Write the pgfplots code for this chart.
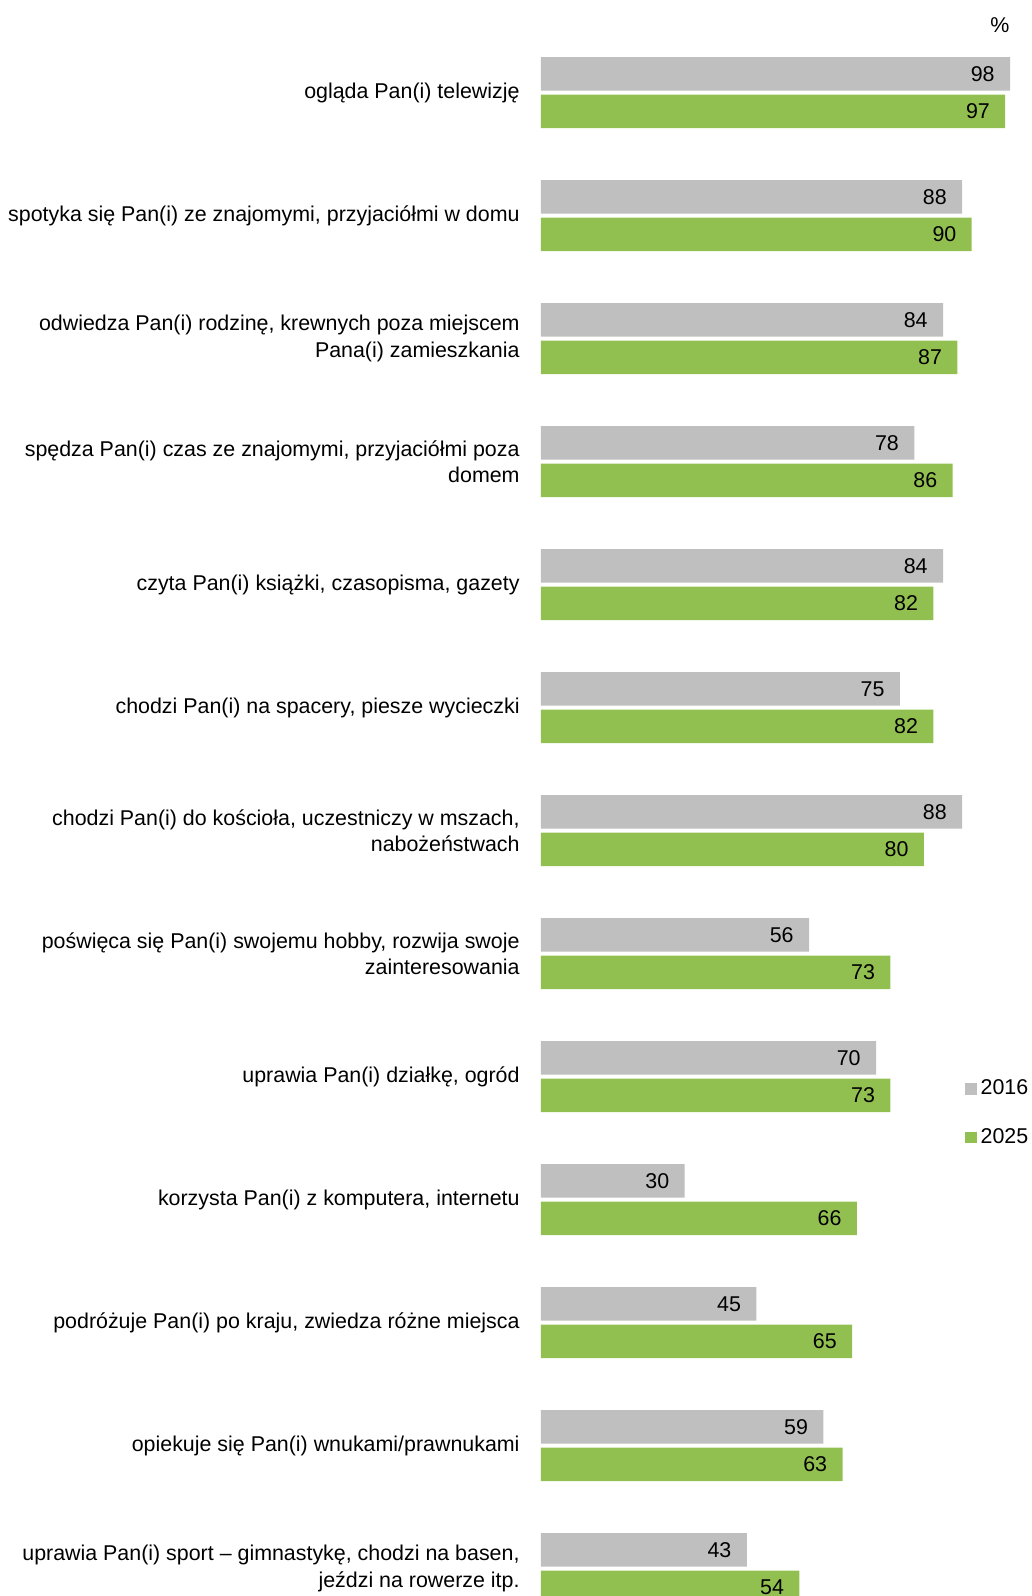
\documentclass[border=0pt]{standalone}
\usepackage{fontspec}
\setmainfont{Liberation Sans}
\usepackage{pgfplots}
\pgfplotsset{compat=1.18}
\definecolor{bargray}{RGB}{191,191,191}
\definecolor{bargreen}{RGB}{146,192,80}
\newcommand{\lbl}{\fontsize{10.7}{13.25}\selectfont}
\begin{document}
\begin{tikzpicture}
\useasboundingbox (-270.5pt,0pt) rectangle (245.5pt,798pt);
\begin{axis}[
    at={(0pt,0pt)}, anchor=south west,
    scale only axis,
    width=239.3pt, height=798pt,
    xmin=0, xmax=100,
    ymin=-0.752, ymax=12.2236,
    y dir=reverse,
    xbar, bar width=16.75pt,
    axis line style={draw=none},
    major tick length=0pt,
    xtick=\empty,
    ytick={0,...,12},
    yticklabels={
      ogląda Pan(i) telewizję,
      {spotyka się Pan(i) ze znajomymi, przyjaciółmi w domu},
      {odwiedza Pan(i) rodzinę, krewnych poza miejscem\\Pana(i) zamieszkania},
      {spędza Pan(i) czas ze znajomymi, przyjaciółmi poza\\domem},
      {czyta Pan(i) książki, czasopisma, gazety},
      {chodzi Pan(i) na spacery, piesze wycieczki},
      {chodzi Pan(i) do kościoła, uczestniczy w mszach,\\nabożeństwach},
      {poświęca się Pan(i) swojemu hobby, rozwija swoje\\zainteresowania},
      {uprawia Pan(i) działkę, ogród},
      {korzysta Pan(i) z komputera, internetu},
      {podróżuje Pan(i) po kraju, zwiedza różne miejsca},
      {opiekuje się Pan(i) wnukami/prawnukami},
      {uprawia Pan(i) sport – gimnastykę, chodzi na basen,\\jeździ na rowerze itp.}
    },
    yticklabel style={align=right, inner sep=0pt, xshift=-10.5pt, font=\lbl},
    nodes near coords,
    nodes near coords style={anchor=east, inner sep=0pt, xshift=-7.5pt,
      font=\lbl, text=black},
    /pgf/number format/assume math mode=true,
    legend style={draw=none, at={(axis cs:88.6,8.30)}, anchor=west,
      font=\lbl, row sep=11.5pt, inner sep=0pt, cells={anchor=west}},
    legend image code/.code={\fill[#1] (0pt,-2.8pt) rectangle (5.6pt,2.8pt);},
]
\addplot[fill=bargray, draw=none, bar shift=9.375pt] coordinates {
  (98,0) (88,1) (84,2) (78,3) (84,4) (75,5) (88,6)
  (56,7) (70,8) (30,9) (45,10) (59,11) (43,12)};
\addlegendentry{2016}
\addplot[fill=bargreen, draw=none, bar shift=-9.375pt] coordinates {
  (97,0) (90,1) (87,2) (86,3) (82,4) (82,5) (80,6)
  (73,7) (73,8) (66,9) (65,10) (63,11) (54,12)};
\addlegendentry{2025}
\node[font=\lbl, inner sep=0pt] at (axis cs:95.9,-0.549) {\%};
\end{axis}
\end{tikzpicture}
\end{document}
